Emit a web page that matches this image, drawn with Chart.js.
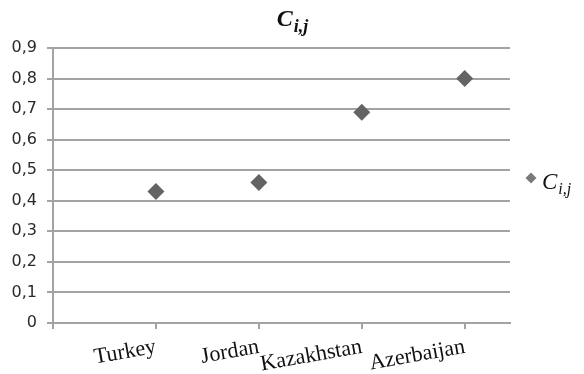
<!DOCTYPE html>
<html>
<head>
<meta charset="utf-8">
<script src="https://cdn.jsdelivr.net/npm/chart.js@4/dist/chart.umd.min.js"></script>
<style>
  html, body { margin: 0; padding: 0; background: #fff; }
  #wrap { width: 584px; height: 374px; position: relative; }
</style>
</head>
<body>
<div id="wrap"><canvas id="c" width="584" height="374"></canvas></div>
<script>
// ---- data ----
const categories = ["Turkey", "Jordan", "Kazakhstan", "Azerbaijan"];
const values = [0.43, 0.46, 0.69, 0.80];
const yTicks = ["0", "0,1", "0,2", "0,3", "0,4", "0,5", "0,6", "0,7", "0,8", "0,9"];
const titleMain = "C";
const titleSub = "i,j";
const seriesName = "C";
const seriesSub = "i,j";

const points = categories.map((c, i) => ({ x: i + 1, y: values[i] }));

const GRID = "#a3a3a3";
const MARK = "#646464";

const titleLegendPlugin = {
  id: "titleLegend",
  afterDraw(chart) {
    const ctx = chart.ctx;
    ctx.save();
    // title
    ctx.fillStyle = "#111";
    ctx.textBaseline = "alphabetic";
    ctx.textAlign = "left";
    ctx.font = "italic bold 24px 'Liberation Serif'";
    const w1 = ctx.measureText(titleMain).width;
    ctx.font = "italic bold 18px 'Liberation Serif'";
    const w2 = ctx.measureText(titleSub).width;
    const x0 = 292 - (w1 + w2) / 2;
    ctx.font = "italic bold 24px 'Liberation Serif'";
    ctx.fillText(titleMain, x0, 26);
    ctx.font = "italic bold 18px 'Liberation Serif'";
    ctx.fillText(titleSub, x0 + w1 + 1, 32);

    // legend
    const lx = 531, ly = 178, r = 5.5;
    ctx.fillStyle = "#7a7a7a";
    ctx.beginPath();
    ctx.moveTo(lx, ly - r);
    ctx.lineTo(lx + r, ly);
    ctx.lineTo(lx, ly + r);
    ctx.lineTo(lx - r, ly);
    ctx.closePath();
    ctx.fill();
    ctx.fillStyle = "#111";
    ctx.font = "italic 23px 'Liberation Serif'";
    ctx.fillText(seriesName, 542, 189);
    const wc = ctx.measureText(seriesName).width;
    ctx.font = "italic 16px 'Liberation Serif'";
    ctx.fillText(seriesSub, 542 + wc + 1, 194);
    ctx.restore();
  }
};

new Chart(document.getElementById("c"), {
  type: "scatter",
  data: {
    datasets: [{
      label: seriesName + seriesSub,
      data: points,
      pointStyle: "rectRot",
      pointRadius: 8.5,
      pointHoverRadius: 8.5,
      backgroundColor: MARK,
      borderColor: MARK,
      borderWidth: 0
    }]
  },
  options: {
    responsive: false,
    animation: false,
    layout: { padding: { top: 48, right: 74, left: 0, bottom: 0 } },
    plugins: {
      legend: { display: false },
      title: { display: false },
      tooltip: { enabled: false }
    },
    scales: {
      x: {
        type: "linear",
        min: 0,
        max: 4.44,
        afterFit(scale) { scale.height = 51; },
        border: { color: GRID, width: 2 },
        grid: { drawOnChartArea: false, color: GRID, lineWidth: 2, tickLength: 6 },
        ticks: {
          stepSize: 1,
          includeBounds: false,
          autoSkip: false,
          minRotation: 10,
          maxRotation: 10,
          padding: 5,
          color: "#111",
          font: { family: "'Liberation Serif'", size: 22 },
          callback: (v) => (v >= 1 && v <= categories.length && Number.isInteger(v)) ? categories[v - 1] : ""
        }
      },
      y: {
        min: 0,
        max: 0.9,
        afterFit(scale) { scale.width = 53; },
        border: { color: GRID, width: 2 },
        grid: { color: GRID, lineWidth: 2, tickLength: 6 },
        ticks: {
          stepSize: 0.1,
          padding: 10,
          color: "#2a2a2a",
          font: { family: "'DejaVu Sans'", size: 16 },
          callback: (v, i) => yTicks[Math.round(v * 10)]
        }
      }
    }
  },
  plugins: [titleLegendPlugin]
});
</script>
</body>
</html>
